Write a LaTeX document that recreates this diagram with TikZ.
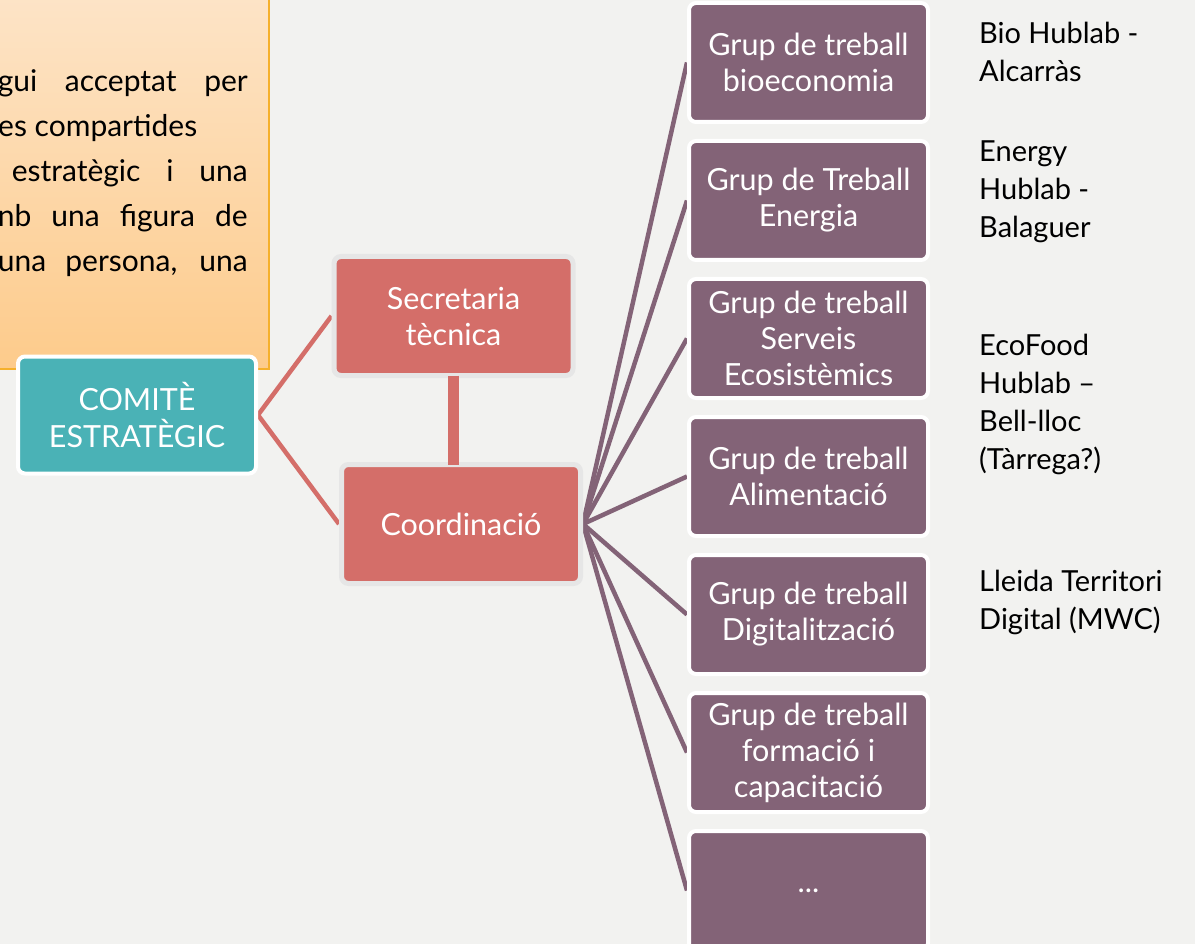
\documentclass[tikz,border=0pt]{standalone}
\usepackage{fontspec}
\setmainfont{Lato}
\usetikzlibrary{positioning, backgrounds}
\definecolor{bggray}{HTML}{F2F2F0}
\definecolor{notetop}{HTML}{FDE4C7}
\definecolor{notebot}{HTML}{FDCB8B}
\definecolor{noteedge}{HTML}{F5B02C}
\definecolor{comitecol}{HTML}{4AB2B6}
\definecolor{salmon}{HTML}{D46E69}
\definecolor{halo}{HTML}{E6E6E6}
\definecolor{grupcol}{HTML}{836377}

\tikzset{
	box/.style={rectangle, rounded corners=7pt, align=center, text=white, inner sep=2pt, font=\fontsize{30.5}{36}\selectfont},
	comitebox/.style={box, fill=comitecol, draw=white, line width=4pt, minimum width=238pt, minimum height=117pt},
	salmonbox/.style={box, fill=salmon, draw=halo, line width=5pt, minimum width=239pt, minimum height=119pt},
	grupbox/.style={box, fill=grupcol, draw=white, line width=4pt, minimum width=239pt, minimum height=119pt},
	salmonline/.style={salmon, line width=4.5pt},
	grupline/.style={grupcol, line width=4.5pt},
	hubtext/.style={anchor=west, align=left, inner sep=0pt, font=\fontsize{29}{38}\selectfont},
	notetext/.style={inner sep=0pt, font=\fontsize{30}{36}\selectfont}
}

\begin{document}
\begin{tikzpicture}[x=1pt, y=-1pt]
	\useasboundingbox (0,0) rectangle (1195,944);
	\begin{pgfonlayer}{background}
		\fill[bggray] (0,0) rectangle (1195,944);
	\end{pgfonlayer}

	% note box (cut at the left)
	\shade[top color=notetop, bottom color=notebot] (-5,-5) rectangle (269,369);
	\draw[noteedge, line width=1.5pt] (-5,369) -- (269,369) -- (269,-5);
	\node[notetext, anchor=base east] (note1) at (248,92) {\makebox[250pt][s]{gui acceptat per}};
	\node[notetext, anchor=base west] (note2) at (-2,137) {es compartides};
	\node[notetext, anchor=base east] (note3) at (248,182) {\makebox[236pt][s]{estratègic i una}};
	\node[notetext, anchor=base east] (note4) at (248,227) {\makebox[250pt][s]{nb una figura de}};
	\node[notetext, anchor=base east] (note5) at (248,272) {\makebox[250pt][s]{una persona, una}};

	% main boxes
	\node[comitebox] (comite) at (137,415) {COMITÈ\\ESTRATÈGIC};
	\node[salmonbox] (secre) at (453.5,316) {Secretaria\\tècnica};
	\node[salmonbox] (coord) at (461,524) {Coordinació};
	\draw[salmon, line width=11pt] ([yshift=2.5pt]secre.south) -- ([yshift=-2.5pt]secre.south |- coord.north);

	% working groups
	\foreach \i/\txt in {1/{Grup de treball\\bioeconomia}, 2/{Grup de Treball\\Energia},
		3/{Grup de treball\\Serveis\\Ecosistèmics}, 4/{Grup de treball\\Alimentació},
		5/{Grup de treball\\Digitalització}, 6/{Grup de treball\\formació i\\capacitació}, 7/{...}}{
		\node[grupbox] (gt\i) at (808.5,{62.5+138*(\i-1)}) {\txt};
	}

	% hublabs
	\node[hubtext] (bio) at (979,52) {Bio Hublab -\\Alcarràs};
	\node[hubtext] (energy) at (979,192) {Energy\\Hublab -\\Balaguer};
	\node[hubtext] (ecofood) at (979,404) {EcoFood\\Hublab –\\Bell-lloc\\(Tàrrega?)};
	\node[hubtext] (lleida) at (979,602) {Lleida Territori\\Digital (MWC)};

	% connectors
	\begin{pgfonlayer}{background}
		\draw[salmonline] (comite.east) -- (secre.west);
		\draw[salmonline] (comite.east) -- (coord.west);
		\foreach \i in {1,...,7}{
			\draw[grupline] (coord.east) -- (gt\i.west);
		}
	\end{pgfonlayer}
\end{tikzpicture}
\end{document}
